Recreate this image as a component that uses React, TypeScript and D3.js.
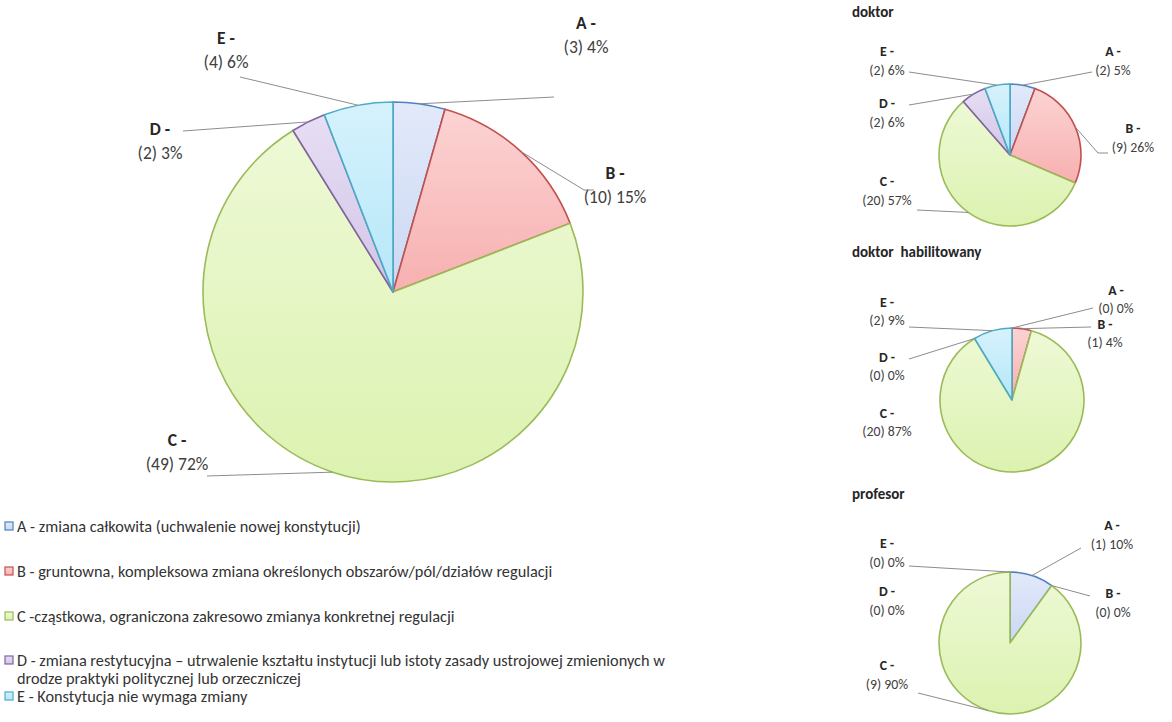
import React from "react";
import * as d3 from "d3";

const categories = ["A", "B", "C", "D", "E"];
const totalCounts = [3, 10, 49, 2, 4];
const totalPercents = [4, 15, 72, 3, 6];
const doktorCounts = [2, 9, 20, 2, 2];
const doktorPercents = [5, 26, 57, 6, 6];
const habilCounts = [0, 1, 20, 0, 2];
const habilPercents = [0, 4, 87, 0, 9];
const profCounts = [1, 0, 9, 0, 0];
const profPercents = [10, 0, 90, 0, 0];
const chartTitles = ["doktor", "doktor  habilitowany", "profesor"];
const legendLines = [
  ["A - zmiana całkowita (uchwalenie nowej konstytucji)"],
  ["B - gruntowna, kompleksowa zmiana określonych obszarów/pól/działów regulacji"],
  ["C -cząstkowa, ograniczona zakresowo zmianya konkretnej regulacji"],
  [
    "D - zmiana restytucyjna – utrwalenie kształtu instytucji lub istoty zasady ustrojowej zmienionych w",
    "drodze praktyki politycznej lub orzeczniczej",
  ],
  ["E - Konstytucja nie wymaga zmiany"],
];

const STROKES = ["#4f81bd", "#c0504d", "#9bbb59", "#8064a2", "#4bacc6"];
const FILL_TOP = ["#e2e9fa", "#fcd3d3", "#eef9d6", "#e7def4", "#d6f2fc"];
const FILL_BOT = ["#cbd8f3", "#f7b0b0", "#dcf2b0", "#d2c5e7", "#b6e7f8"];
const FONT = "Carlito, Calibri, Lato, sans-serif";

type Lab = { x: number; y: number; line?: number[][] };

type PieCfg = {
  id: string;
  counts: number[];
  percents: number[];
  cx: number;
  cy: number;
  r: number;
  fs: number;
  gap: number;
  labels: Lab[];
  title?: string;
  titleY?: number;
};

const pies: PieCfg[] = [
  {
    id: "main",
    counts: totalCounts,
    percents: totalPercents,
    cx: 393,
    cy: 292,
    r: 190,
    fs: 17.5,
    gap: 24,
    labels: [
      { x: 586, y: 29, line: [[554, 97]] },
      { x: 615, y: 179, line: [[594, 190], [584, 190]] },
      { x: 177, y: 446, line: [[207, 476]] },
      { x: 160, y: 135, line: [[183, 131]] },
      { x: 226, y: 44, line: [[240, 77]] },
    ],
  },
  {
    id: "doktor",
    counts: doktorCounts,
    percents: doktorPercents,
    cx: 1010,
    cy: 155,
    r: 71,
    fs: 13.8,
    gap: 19,
    title: chartTitles[0],
    titleY: 17,
    labels: [
      { x: 1113, y: 56, line: [[1092, 72]] },
      { x: 1133, y: 133, line: [[1108, 153], [1098, 153]] },
      { x: 887, y: 186, line: [[917, 210]] },
      { x: 887, y: 108, line: [[909, 105]] },
      { x: 887, y: 56, line: [[909, 72]] },
    ],
  },
  {
    id: "habil",
    counts: habilCounts,
    percents: habilPercents,
    cx: 1012,
    cy: 400,
    r: 72,
    fs: 13.8,
    gap: 18,
    title: chartTitles[1],
    titleY: 257,
    labels: [
      { x: 1116, y: 295, line: [[1093, 308]] },
      { x: 1105, y: 329, line: [[1091, 327]] },
      { x: 887, y: 418 },
      { x: 887, y: 362, line: [[909, 359]] },
      { x: 887, y: 307, line: [[909, 327]] },
    ],
  },
  {
    id: "prof",
    counts: profCounts,
    percents: profPercents,
    cx: 1010,
    cy: 643,
    r: 71,
    fs: 13.8,
    gap: 19,
    title: chartTitles[2],
    titleY: 499,
    labels: [
      { x: 1112, y: 530, line: [[1081, 548]] },
      { x: 1113, y: 598, line: [[1090, 596]] },
      { x: 887, y: 670, line: [[918, 693]] },
      { x: 887, y: 596 },
      { x: 887, y: 548, line: [[909, 566]] },
    ],
  },
];

function Pie({ cfg }: { cfg: PieCfg }) {
  const pieGen = d3
    .pie<number>()
    .sort(null)
    .value((d) => d)
    .startAngle(0)
    .endAngle(2 * Math.PI);
  const arcs = pieGen(cfg.counts);
  const arcGen = d3.arc<d3.PieArcDatum<number>>().innerRadius(0).outerRadius(cfg.r);
  return (
    <g>
      {cfg.title && (
        <text x={852} y={cfg.titleY} fontFamily={FONT} fontWeight="bold" fontSize={15} fill="#262626" style={{ whiteSpace: "pre" }}>
          {cfg.title}
        </text>
      )}
      <g transform={`translate(${cfg.cx},${cfg.cy})`}>
        {arcs.map((a, i) =>
          a.value > 0 ? (
            <path
              key={i}
              d={arcGen(a) || ""}
              fill={`url(#grad-${categories[i]})`}
              stroke={STROKES[i]}
              strokeWidth={1.6}
              strokeLinejoin="round"
            />
          ) : null
        )}
      </g>
      {arcs.map((a, i) => {
        const lab = cfg.labels[i];
        const mid = (a.startAngle + a.endAngle) / 2;
        const ex = cfg.cx + cfg.r * Math.sin(mid);
        const ey = cfg.cy - cfg.r * Math.cos(mid);
        const pts = lab.line ? [...lab.line, [ex, ey]] : null;
        return (
          <g key={"l" + i}>
            {pts && (
              <path
                d={d3.line()(pts as [number, number][]) || ""}
                fill="none"
                stroke="#8c8c8c"
                strokeWidth={1}
              />
            )}
            <text x={lab.x} y={lab.y} textAnchor="middle" fontFamily={FONT} fontSize={cfg.fs} fontWeight="bold" fill="#262626">
              {categories[i] + " -"}
            </text>
            <text x={lab.x} y={lab.y + cfg.gap} textAnchor="middle" fontFamily={FONT} fontSize={cfg.fs} fill="#404040">
              {`(${cfg.counts[i]}) ${cfg.percents[i]}%`}
            </text>
          </g>
        );
      })}
    </g>
  );
}

const legendY = [532, 577, 622, 666, 702];

export default function App() {
  return (
    <svg
      width={1172}
      height={722}
      style={{ position: "absolute", left: 0, top: 0, background: "#fff" }}
    >
      <defs>
        {categories.map((c, i) => (
          <linearGradient key={c} id={`grad-${c}`} x1="0" y1="0" x2="0" y2="1">
            <stop offset="0%" stopColor={FILL_TOP[i]} />
            <stop offset="100%" stopColor={FILL_BOT[i]} />
          </linearGradient>
        ))}
      </defs>
      {pies.map((p) => (
        <Pie key={p.id} cfg={p} />
      ))}
      {legendLines.map((lines, i) => (
        <g key={"lg" + i}>
          <rect
            x={5}
            y={legendY[i] - 10}
            width={8}
            height={8}
            fill={`url(#grad-${categories[i]})`}
            stroke={STROKES[i]}
            strokeWidth={1.2}
          />
          {lines.map((t, j) => (
            <text key={j} x={17} y={legendY[i] + j * 18} fontFamily={FONT} fontSize={16.3} fill="#333">
              {t}
            </text>
          ))}
        </g>
      ))}
    </svg>
  );
}
